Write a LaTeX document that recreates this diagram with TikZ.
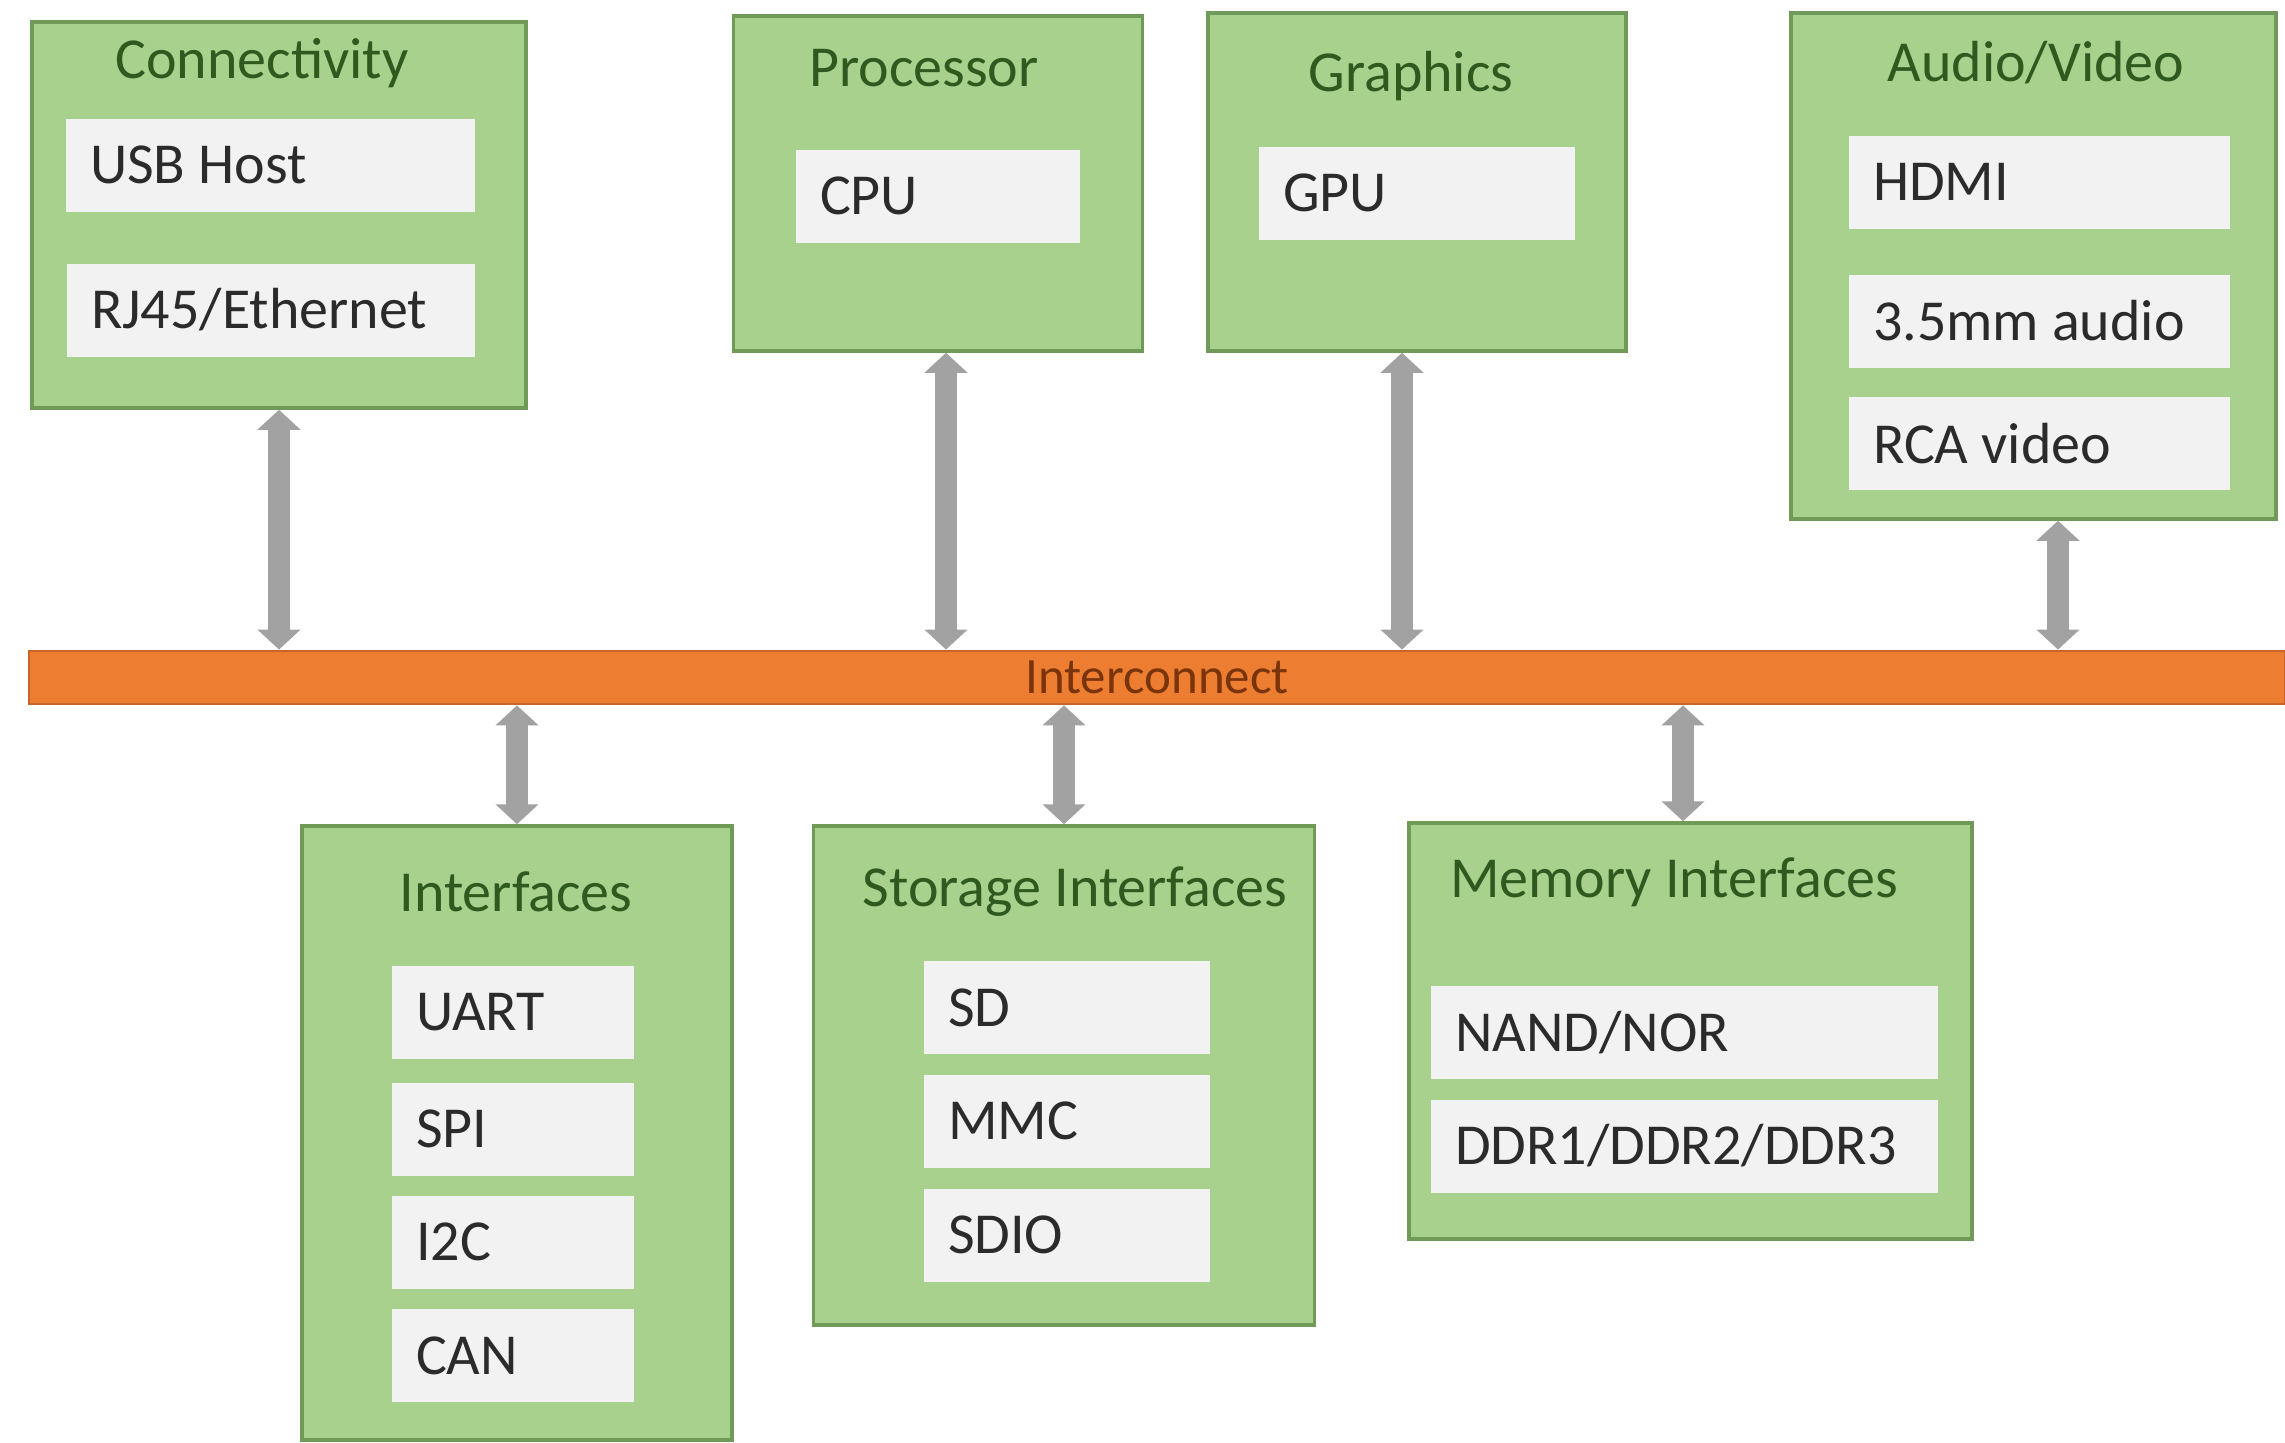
\documentclass[tikz,border=0pt]{standalone}
\usepackage{fontspec}
\setmainfont{Carlito}
\usetikzlibrary{arrows.meta}
\definecolor{grpfill}{HTML}{A9D18E}
\definecolor{grpedge}{HTML}{6F9A57}
\definecolor{titlegreen}{HTML}{2F5A1F}
\definecolor{itemfill}{HTML}{F2F2F2}
\definecolor{itemtext}{HTML}{2B2B2B}
\definecolor{busfill}{HTML}{ED7D31}
\definecolor{busedge}{HTML}{C8652A}
\definecolor{bustext}{HTML}{7A340C}
\definecolor{linkgray}{HTML}{A2A2A2}

\begin{document}
\begin{tikzpicture}[
        group/.style={draw=grpedge, fill=grpfill, line width=1pt, inner sep=0pt},
        grptitle/.style={text=titlegreen, font=\fontsize{16.5}{19}\selectfont, inner sep=0pt},
        item/.style={fill=itemfill, text=itemtext, font=\fontsize{16.5}{19}\selectfont,
                inner xsep=0.24cm, inner ysep=0pt, minimum height=0.93cm,
                execute at begin node={\hbox to #1\bgroup}, execute at end node={\hfil\egroup}},
        link/.style={draw=linkgray, line width=6pt,
                {Triangle[width=0.42cm,length=0.2cm]}-{Triangle[width=0.42cm,length=0.2cm]}}]
        \useasboundingbox (0,0) rectangle (22.85,-14.43);

        \node [group, minimum width=4.94cm, minimum height=3.86cm] (conn) at (2.79,-2.15) {};
        \node [group, minimum width=4.09cm, minimum height=3.35cm] (proc) at (9.38,-1.835) {};
        \node [group, minimum width=4.18cm, minimum height=3.38cm] (gfx) at (14.17,-1.82) {};
        \node [group, minimum width=4.85cm, minimum height=5.06cm] (av) at (20.335,-2.66) {};
        \node [group, minimum width=4.30cm, minimum height=6.14cm] (ifc) at (5.17,-11.33) {};
        \node [group, minimum width=5.01cm, minimum height=4.99cm] (stor) at (10.64,-10.755) {};
        \node [group, minimum width=5.63cm, minimum height=4.16cm] (mem) at (16.905,-10.31) {};

        \node [grptitle] (conntitle) at (2.62,-0.63) {Connectivity};
        \node [grptitle] (proctitle) at (9.24,-0.685) {Processor};
        \node [grptitle] (gfxtitle) at (14.11,-0.76) {Graphics};
        \node [grptitle] (avtitle) at (20.36,-0.63) {Audio/Video};
        \node [grptitle] (ifctitle) at (5.16,-8.92) {Interfaces};
        \node [grptitle] (stortitle) at (10.75,-8.92) {Storage Interfaces};
        \node [grptitle] (memtitle) at (16.74,-8.82) {Memory Interfaces};

        \node [item=3.61cm] (usb) at (2.705,-1.65) {USB Host};
        \node [item=3.60cm] (rj45) at (2.71,-3.10) {RJ45/Ethernet};
        \node [item=2.36cm] (cpu) at (9.38,-1.96) {CPU};
        \node [item=2.68cm] (gpu) at (14.17,-1.93) {GPU};
        \node [item=3.33cm] (hdmi) at (20.395,-1.82) {HDMI};
        \node [item=3.33cm] (audio) at (20.395,-3.21) {3.5mm audio};
        \node [item=3.33cm] (rca) at (20.395,-4.435) {RCA video};
        \node [item=1.94cm] (uart) at (5.13,-10.12) {UART};
        \node [item=1.94cm] (spi) at (5.13,-11.29) {SPI};
        \node [item=1.94cm] (i2c) at (5.13,-12.42) {I2C};
        \node [item=1.94cm] (can) at (5.13,-13.555) {CAN};
        \node [item=2.38cm] (sd) at (10.67,-10.075) {SD};
        \node [item=2.38cm] (mmc) at (10.67,-11.21) {MMC};
        \node [item=2.38cm] (sdio) at (10.67,-12.35) {SDIO};
        \node [item=4.59cm] (nand) at (16.845,-10.325) {NAND/NOR};
        \node [item=4.59cm] (ddr) at (16.845,-11.46) {DDR1/DDR2/DDR3};

        \node [draw=busedge, fill=busfill, line width=0.8pt, inner sep=0pt,
                minimum width=22.56cm, minimum height=0.53cm, text=bustext,
                font=\fontsize{14.5}{16}\selectfont] (bus) at (11.57,-6.775) {Interconnect};

        \draw [link] (conn.south) -- (conn.south |- bus.north);
        \draw [link] ([xshift=0.08cm]proc.south) -- ([xshift=0.08cm]proc.south |- bus.north);
        \draw [link] ([xshift=-0.15cm]gfx.south) -- ([xshift=-0.15cm]gfx.south |- bus.north);
        \draw [link] ([xshift=0.245cm]av.south) -- ([xshift=0.245cm]av.south |- bus.north);
        \draw [link] (ifc.north) -- (ifc.north |- bus.south);
        \draw [link] (stor.north) -- (stor.north |- bus.south);
        \draw [link] ([xshift=-0.075cm]mem.north) -- ([xshift=-0.075cm]mem.north |- bus.south);
\end{tikzpicture}
\end{document}
